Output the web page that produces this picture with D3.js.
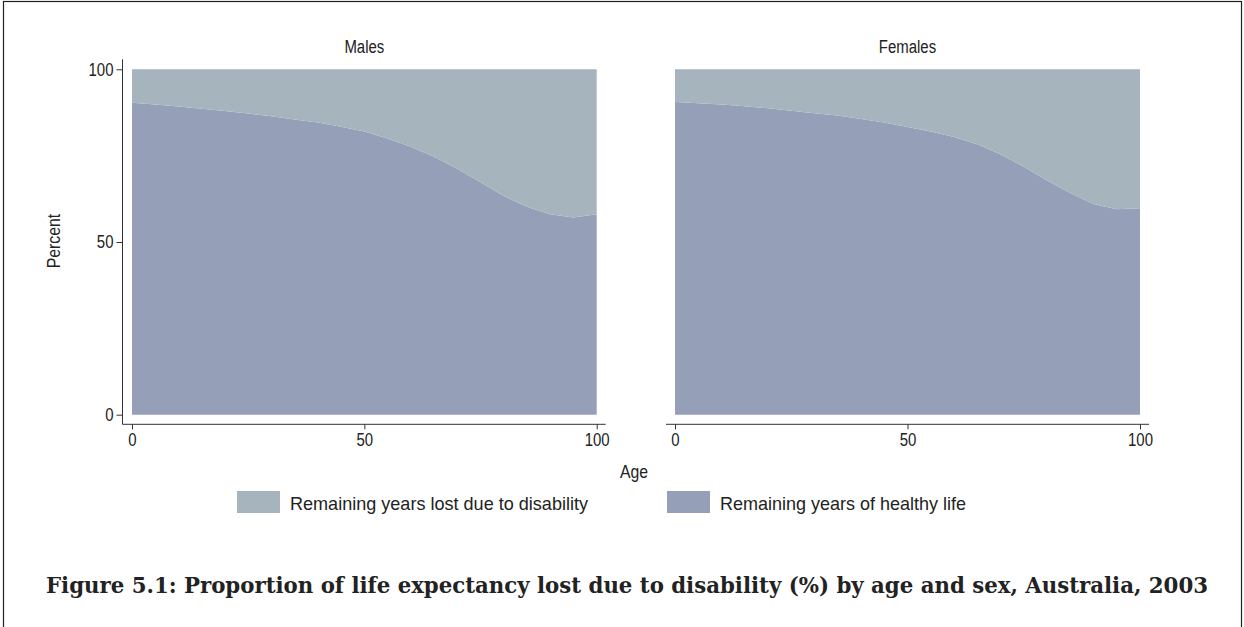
<!DOCTYPE html>
<html>
<head>
<meta charset="utf-8">
<script src="https://cdn.jsdelivr.net/npm/d3@7"></script>
<style>
  html, body { margin: 0; padding: 0; background: #fff; }
  svg { display: block; }
  .narrow { font-family: "Liberation Sans", Arial, Helvetica, sans-serif; fill: #222; }
  .title { font-family: "DejaVu Serif Condensed", "DejaVu Serif", "Liberation Serif", serif; font-stretch: condensed; font-weight: bold; fill: #222; }
</style>
</head>
<body>
<svg id="chart" width="1244" height="627"></svg>
<script>
// Age points (years)
const ages = [0, 5, 10, 15, 20, 25, 30, 35, 40, 45, 50, 55, 60, 65, 70, 75, 80, 85, 90, 95, 100];

// Remaining years of healthy life, % of life expectancy
const malesHealthy   = [90.3, 89.8, 89.2, 88.6, 87.9, 87.2, 86.4, 85.5, 84.6, 83.4, 82.0, 80.0, 77.6, 74.7, 71.2, 67.3, 63.3, 60.2, 58.0, 57.1, 58.0];
const femalesHealthy = [90.5, 90.2, 89.8, 89.3, 88.7, 88.0, 87.3, 86.6, 85.6, 84.6, 83.3, 82.0, 80.4, 78.3, 75.4, 71.8, 67.8, 64.2, 61.0, 59.5, 59.8];

// Remaining years lost due to disability, % of life expectancy
const malesLost   = [9.7, 10.2, 10.8, 11.4, 12.1, 12.8, 13.6, 14.5, 15.4, 16.6, 18.0, 20.0, 22.4, 25.3, 28.8, 32.7, 36.7, 39.8, 42.0, 42.9, 42.0];
const femalesLost = [9.5, 9.8, 10.2, 10.7, 11.3, 12.0, 12.7, 13.4, 14.4, 15.4, 16.7, 18.0, 19.6, 21.7, 24.6, 28.2, 32.2, 35.8, 39.0, 40.5, 40.2];

const panelNames = ["Males", "Females"];
const seriesNames = ["Remaining years lost due to disability", "Remaining years of healthy life"];
const xTicks = [0, 50, 100];
const yTicks = [0, 50, 100];
const titleText = "Figure 5.1: Proportion of life expectancy lost due to disability (%) by age and sex, Australia, 2003";

const colHealthy = "#959fb8";
const colLost = "#a6b5bd";
const axisCol = "#333";
const NARROW = 0.83; // horizontal squeeze for the condensed sans labels

const svg = d3.select("#chart");

// squeeze a sans label horizontally to a condensed look
function condense(sel, target) {
  sel.each(function () {
    const len = this.getComputedTextLength();
    const w = target || len * NARROW;
    d3.select(this).attr("textLength", w).attr("lengthAdjust", "spacingAndGlyphs");
  });
}

// outer frame
svg.append("rect")
  .attr("x", 3.5).attr("y", 1.5).attr("width", 1238).attr("height", 640)
  .attr("fill", "none").attr("stroke", "#222").attr("stroke-width", 1.2);

const y = d3.scaleLinear().domain([0, 100]).range([414.7, 69.3]);

const panels = [
  { name: panelNames[0], healthy: malesHealthy, lost: malesLost, x0: 132, x1: 596.7, axL: 122.5, axR: 605.7, yAxis: true },
  { name: panelNames[1], healthy: femalesHealthy, lost: femalesLost, x0: 675, x1: 1140, axL: 666, axR: 1149, yAxis: false }
];

const axisLineY = 424.3;

panels.forEach(p => {
  const x = d3.scaleLinear().domain([0, 100]).range([p.x0, p.x1]);
  const rows = ages.map((a, i) => ({ age: a, healthy: p.healthy[i], lost: p.lost[i] }));
  const stack = d3.stack().keys(["healthy", "lost"])(rows);
  const area = d3.area()
    .x(d => x(d.data.age))
    .y0(d => y(d[0]))
    .y1(d => y(d[1]));

  svg.append("g").selectAll("path.layer")
    .data(stack)
    .join("path")
    .attr("class", "layer")
    .attr("d", area)
    .attr("fill", d => d.key === "healthy" ? colHealthy : colLost);

  // panel heading
  svg.append("text")
    .attr("class", "narrow")
    .attr("x", (p.x0 + p.x1) / 2).attr("y", 53)
    .attr("text-anchor", "middle")
    .attr("font-size", 18)
    .text(p.name)
    .call(condense);

  // x axis
  const xa = svg.append("g").attr("transform", `translate(0,${axisLineY})`)
    .call(d3.axisBottom(x).tickValues(xTicks).tickSize(5).tickPadding(4).tickFormat(d3.format("d")));
  xa.attr("font-family", null).attr("font-size", null);
  xa.select(".domain").attr("d", `M${p.axL},0H${p.axR}`).attr("stroke", axisCol);
  xa.selectAll(".tick line").attr("stroke", axisCol);
  xa.selectAll(".tick text").attr("class", "narrow").attr("font-size", 18).attr("fill", "#222").call(condense);

  if (p.yAxis) {
    const ya = svg.append("g").attr("transform", `translate(${p.axL},0)`)
      .call(d3.axisLeft(y).tickValues(yTicks).tickSize(6).tickPadding(3).tickFormat(d3.format("d")));
    ya.attr("font-family", null).attr("font-size", null);
    ya.select(".domain").attr("d", `M0,59.3V${axisLineY}`).attr("stroke", axisCol);
    ya.selectAll(".tick line").attr("stroke", axisCol);
    ya.selectAll(".tick text").attr("class", "narrow").attr("font-size", 18).attr("fill", "#222").call(condense);
  }
});

// axis titles
svg.append("text")
  .attr("class", "narrow")
  .attr("transform", "translate(60,241) rotate(-90)")
  .attr("text-anchor", "middle")
  .attr("font-size", 19)
  .text("Percent")
  .call(condense);

svg.append("text")
  .attr("class", "narrow")
  .attr("x", 634).attr("y", 478)
  .attr("text-anchor", "middle")
  .attr("font-size", 19)
  .text("Age")
  .call(condense);

// legend
const legendItems = [
  { label: seriesNames[0], color: colLost, sx: 237, tx: 290, w: 298 },
  { label: seriesNames[1], color: colHealthy, sx: 667, tx: 720, w: 246 }
];
legendItems.forEach(it => {
  svg.append("rect")
    .attr("x", it.sx).attr("y", 491).attr("width", 43).attr("height", 22)
    .attr("fill", it.color);
  svg.append("text")
    .attr("class", "narrow")
    .attr("x", it.tx).attr("y", 510)
    .attr("font-size", 19)
    .text(it.label)
    .call(condense, it.w);
});

// figure caption
const title = svg.append("text")
  .attr("class", "title")
  .attr("x", 627).attr("y", 593)
  .attr("text-anchor", "middle")
  .attr("font-size", 22)
  .text(titleText);
title.attr("textLength", 1162).attr("lengthAdjust", "spacingAndGlyphs");
</script>
</body>
</html>
